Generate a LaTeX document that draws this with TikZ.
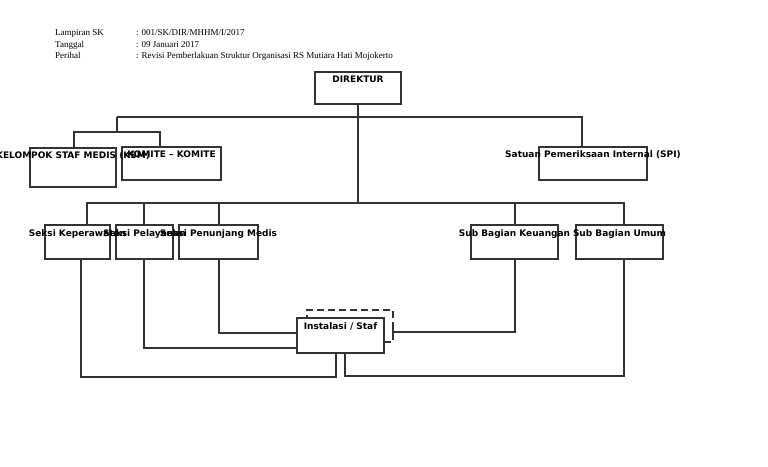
\documentclass[tikz,border=0pt]{standalone}
\usepackage{fontspec}
\setmainfont{Liberation Serif}
\newfontfamily\boxfont{DejaVu Sans}
\begin{document}
\begin{tikzpicture}[x=1pt,y=-1pt,
  ln/.style={draw=black!80,line width=1.1pt},
  box/.style={ln,fill=none,inner sep=0pt,outer sep=0pt,minimum height=34pt},
  lbl/.style={anchor=base,inner sep=0pt,font=\boxfont\bfseries\fontsize{9}{10}\selectfont},
  hdr/.style={anchor=base west,inner sep=0pt,font=\fontsize{9}{10}\selectfont}]
\useasboundingbox (0,0) rectangle (768,466);
% header
\node[hdr] (h1) at (55,35) {Lampiran SK};
\node[hdr] (h2) at (55,47) {Tanggal};
\node[hdr] (h3) at (55,58) {Perihal};
\node[hdr] (v1) at (136,35) {: 001/SK/DIR/MHHM/I/2017};
\node[hdr] (v2) at (136,47) {: 09 Januari 2017};
\node[hdr] (v3) at (136,58) {: Revisi Pemberlakuan Struktur Organisasi RS Mutiara Hati Mojokerto};
% boxes
\node[box,minimum width=86pt,minimum height=32pt] (dir) at (358,88) {};
\node[box,minimum width=86pt,minimum height=39pt] (ksm) at (73,167.5) {};
\node[box,minimum width=99pt,minimum height=33pt] (kom) at (171.5,163.5) {};
\node[box,minimum width=108pt,minimum height=33pt] (spi) at (593,163.5) {};
\node[box,minimum width=65pt] (kep) at (77.5,242) {};
\node[box,minimum width=57pt] (pel) at (144.5,242) {};
\node[box,minimum width=79pt] (pen) at (218.5,242) {};
\node[box,minimum width=87pt] (keu) at (514.5,242) {};
\node[box,minimum width=87pt] (umu) at (619.5,242) {};
\node[box,minimum width=87pt,minimum height=35pt] (ins) at (340.5,335.5) {};
% labels
\node[lbl] (ldir) at ([yshift=-10pt]dir.north) {DIREKTUR};
\node[lbl] (lksm) at ([yshift=-10pt]ksm.north) {KELOMPOK STAF MEDIS (KSM)};
\node[lbl] (lkom) at ([yshift=-10pt]kom.north) {KOMITE – KOMITE};
\node[lbl] (lspi) at ([yshift=-10pt]spi.north) {Satuan Pemeriksaan Internal (SPI)};
\node[lbl] (lkep) at ([yshift=-11pt]kep.north) {Seksi Keperawatan};
\node[lbl] (lpel) at ([yshift=-11pt]pel.north) {Seksi Pelayanan};
\node[lbl] (lpen) at ([yshift=-11pt]pen.north) {Seksi Penunjang Medis};
\node[lbl] (lkeu) at ([yshift=-11pt]keu.north) {Sub Bagian Keuangan};
\node[lbl] (lumu) at ([yshift=-11pt]umu.north) {Sub Bagian Umum};
\node[lbl] (lins) at ([yshift=-11pt]ins.north) {Instalasi / Staf};
% coordinates
\coordinate (j1) at (358,117);
\coordinate (j2) at (358,203);
\coordinate (k1) at (117,117);
\coordinate (k2) at (117,132);
\coordinate (kj) at (393,332);
\coordinate (dr) at (393,342);
\coordinate (dt) at (393,310);
\coordinate (dl) at (307,310);
% top connectors
\draw[ln] (dir.south) -- (j2);
\draw[ln] (k1) -| ([xshift=-11pt]spi.north);
\draw[ln] (k1) -- (k2);
\draw[ln] ([xshift=1pt]ksm.north) |- (k2) -| ([xshift=-11.5pt]kom.north);
\draw[ln] ([xshift=9.5pt]kep.north) |- (j2) -| ([xshift=4.5pt]umu.north);
\draw[ln] ([xshift=-0.5pt]pel.north) -- ([xshift=-0.5pt]pel.north |- j2);
\draw[ln] ([xshift=0.5pt]pen.north) -- ([xshift=0.5pt]pen.north |- j2);
\draw[ln] ([xshift=0.5pt]keu.north) -- ([xshift=0.5pt]keu.north |- j2);
% bottom connectors
\draw[ln] ([xshift=3.5pt]kep.south) -- ++(0,118) -| ([xshift=-4.5pt]ins.south);
\draw[ln] ([xshift=-0.5pt]pel.south) |- ([yshift=-12.5pt]ins.west);
\draw[ln] ([xshift=0.5pt]pen.south) |- ([yshift=2.5pt]ins.west);
\draw[ln] ([xshift=0.5pt]keu.south) |- (kj);
\draw[ln] ([yshift=4.5pt]kj) -- ([yshift=-4.5pt]kj);
\draw[ln] ([xshift=4.5pt]umu.south) -- ++(0,117) -| ([xshift=4.5pt]ins.south);
\draw[ln,dash pattern=on 7pt off 4pt] ([yshift=-6.5pt]ins.east) -- (dr) -- (dt) -- (dl) -- (dl |- ins.north);
\end{tikzpicture}
\end{document}
